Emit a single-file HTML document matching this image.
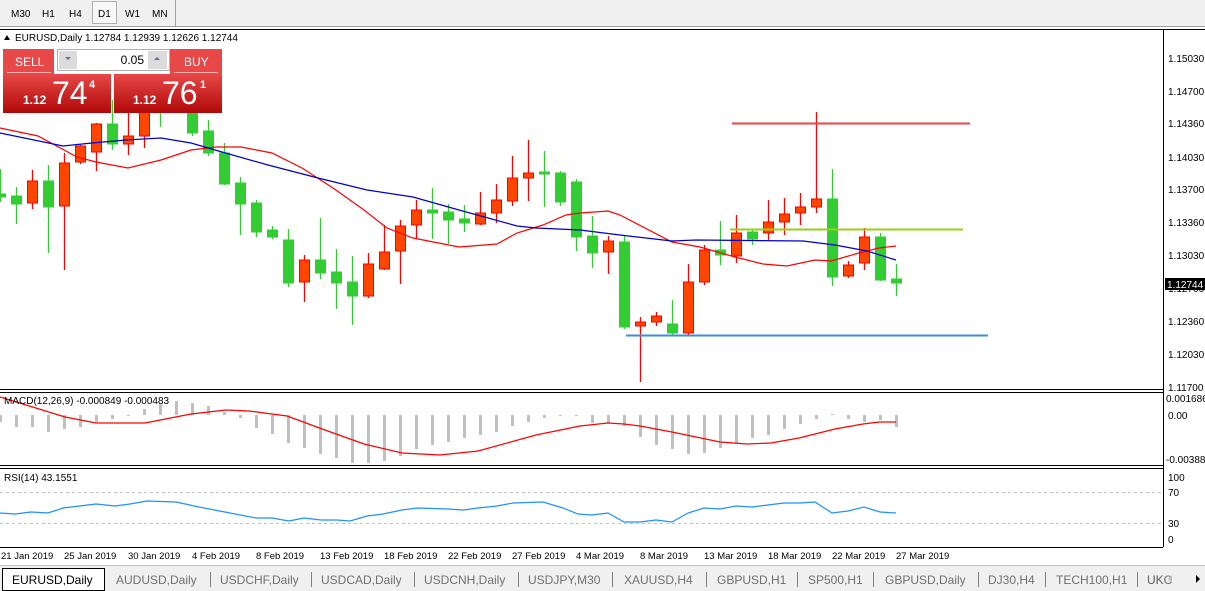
<!DOCTYPE html>
<html><head><meta charset="utf-8"><style>
html,body{margin:0;padding:0;background:#fff;}
svg{display:block;font-family:"Liberation Sans",sans-serif;}
</style></head><body>
<svg id="s" width="1205" height="591" viewBox="0 0 1205 591" xmlns="http://www.w3.org/2000/svg">
<!-- toolbar -->
<rect x="0" y="0" width="1205" height="27" fill="#f0f0f0"/>
<line x1="0" y1="26.5" x2="1205" y2="26.5" stroke="#a0a0a0"/>
<line x1="175.5" y1="0" x2="175.5" y2="26" stroke="#a0a0a0"/>
<rect x="92.5" y="1.5" width="24" height="22" fill="#f8f8f8" stroke="#b0b0b0"/>
<g font-size="10" fill="#000">
<text x="11" y="17">M30</text><text x="42" y="17">H1</text><text x="69" y="17">H4</text>
<text x="98" y="17">D1</text><text x="125" y="17">W1</text><text x="152" y="17">MN</text>
</g>
<line x1="0" y1="29.5" x2="1205" y2="29.5" stroke="#000"/>
<g id="plot"></g>
<!-- horizontal lines -->
<line x1="732" y1="123.5" x2="970" y2="123.5" stroke="#f04040" stroke-width="2"/>
<line x1="730" y1="229.5" x2="963" y2="229.5" stroke="#9acd1a" stroke-width="2"/>
<line x1="626" y1="335.5" x2="988" y2="335.5" stroke="#3a8ee0" stroke-width="2"/>
<!-- header text -->
<polygon points="4,40 10,40 7,35" fill="#000"/>
<text x="15" y="41" font-size="10">EURUSD,Daily  1.12784 1.12939 1.12626 1.12744</text>
<!-- trade panel -->
<defs><linearGradient id="rg" x1="0" y1="0" x2="0" y2="1"><stop offset="0" stop-color="#e84848"/><stop offset="1" stop-color="#b00808"/></linearGradient></defs>
<rect x="3" y="49" width="51" height="25" fill="#e84848"/>
<line x1="7" y1="72.5" x2="51" y2="72.5" stroke="#ffb0b0"/>
<text x="15" y="66" font-size="12" fill="#fff">SELL</text>
<rect x="170" y="49" width="52" height="25" fill="#e84848"/>
<line x1="174" y1="72.5" x2="218" y2="72.5" stroke="#ffb0b0"/>
<text x="184" y="66" font-size="12" fill="#fff">BUY</text>
<rect x="57.5" y="49.5" width="112" height="21" fill="#fff" stroke="#b0b0b0"/>
<rect x="59" y="51" width="18" height="18" fill="#dcdcdc"/>
<rect x="148" y="51" width="19" height="18" fill="#dcdcdc"/>
<polygon points="65,57 71,57 68,60" fill="#6070a0"/><polygon points="154,60 160,60 157,57" fill="#6070a0"/>
<text x="144" y="64" font-size="12" text-anchor="end">0.05</text>
<rect x="3" y="74" width="108" height="39" fill="url(#rg)"/>
<rect x="114" y="74" width="108" height="39" fill="url(#rg)"/>
<text x="23" y="104" font-size="12" font-weight="bold" fill="#fff">1.12</text>
<text x="52" y="104" font-size="32" fill="#fff">74</text>
<text x="89" y="88" font-size="11" font-weight="bold" fill="#fff">4</text>
<text x="133" y="104" font-size="12" font-weight="bold" fill="#fff">1.12</text>
<text x="162" y="104" font-size="32" fill="#fff">76</text>
<text x="200" y="88" font-size="11" font-weight="bold" fill="#fff">1</text>
<!-- frames -->
<line x1="1163.5" y1="29" x2="1163.5" y2="547" stroke="#000"/>
<line x1="0" y1="389.5" x2="1163" y2="389.5" stroke="#000"/>
<line x1="0" y1="392.5" x2="1163" y2="392.5" stroke="#000"/>
<line x1="0" y1="465.5" x2="1163" y2="465.5" stroke="#000"/>
<line x1="0" y1="468.5" x2="1163" y2="468.5" stroke="#000"/>
<line x1="0" y1="547.5" x2="1163" y2="547.5" stroke="#000"/>
<line x1="0" y1="492.5" x2="1163" y2="492.5" stroke="#c0c0c0" stroke-dasharray="3,3"/>
<line x1="0" y1="523.5" x2="1163" y2="523.5" stroke="#c0c0c0" stroke-dasharray="3,3"/>
<!-- y axis labels -->
<g font-size="10" fill="#000">
<text x="1168" y="62">1.15030</text><text x="1168" y="95">1.14700</text><text x="1168" y="127">1.14360</text>
<text x="1168" y="161">1.14030</text><text x="1168" y="193">1.13700</text><text x="1168" y="226">1.13360</text>
<text x="1168" y="259">1.13030</text><text x="1168" y="292">1.12700</text><text x="1168" y="325">1.12360</text>
<text x="1168" y="358">1.12030</text><text x="1168" y="391">1.11700</text>
<rect x="1165" y="278" width="40" height="12" fill="#000"/>
<text x="1167" y="288" fill="#fff">1.12744</text>
<text x="1166" y="402">0.001686</text><text x="1168" y="419">0.00</text><text x="1166" y="463">-0.00388</text>
<text x="1168" y="481">100</text><text x="1168" y="496">70</text><text x="1168" y="527">30</text><text x="1168" y="543">0</text>
<text x="4" y="404">MACD(12,26,9) -0.000849 -0.000483</text>
<text x="4" y="481">RSI(14) 43.1551</text>
</g>
<g font-size="9.5" fill="#000">
<text x="1" y="559">21 Jan 2019</text><text x="64" y="559">25 Jan 2019</text><text x="128" y="559">30 Jan 2019</text>
<text x="192" y="559">4 Feb 2019</text><text x="256" y="559">8 Feb 2019</text><text x="320" y="559">13 Feb 2019</text>
<text x="384" y="559">18 Feb 2019</text><text x="448" y="559">22 Feb 2019</text><text x="512" y="559">27 Feb 2019</text>
<text x="576" y="559">4 Mar 2019</text><text x="640" y="559">8 Mar 2019</text><text x="704" y="559">13 Mar 2019</text>
<text x="768" y="559">18 Mar 2019</text><text x="832" y="559">22 Mar 2019</text><text x="896" y="559">27 Mar 2019</text>
</g>
<!-- tabs -->
<rect x="0" y="565" width="1205" height="26" fill="#f0f0f0"/>
<line x1="0" y1="565.5" x2="1205" y2="565.5" stroke="#c0c0c0"/>
<rect x="2.5" y="568.5" width="102" height="22" fill="#fff" stroke="#000"/>
<g font-size="12" fill="#707070">
<text x="12" y="584" fill="#000">EURUSD,Daily</text>
<text x="116" y="584">AUDUSD,Daily</text><text x="220" y="584">USDCHF,Daily</text><text x="321" y="584">USDCAD,Daily</text>
<text x="424" y="584">USDCNH,Daily</text><text x="528" y="584">USDJPY,M30</text><text x="624" y="584">XAUUSD,H4</text>
<text x="717" y="584">GBPUSD,H1</text><text x="808" y="584">SP500,H1</text><text x="885" y="584">GBPUSD,Daily</text>
<text x="988" y="584">DJ30,H4</text><text x="1056" y="584">TECH100,H1</text><text x="1147" y="584">UKC</text>
</g>
<g stroke="#808080"><line x1="210.5" y1="572" x2="210.5" y2="587"/><line x1="311.5" y1="572" x2="311.5" y2="587"/><line x1="414.5" y1="572" x2="414.5" y2="587"/><line x1="518.5" y1="572" x2="518.5" y2="587"/><line x1="612.5" y1="572" x2="612.5" y2="587"/><line x1="706.5" y1="572" x2="706.5" y2="587"/><line x1="797.5" y1="572" x2="797.5" y2="587"/><line x1="873.5" y1="572" x2="873.5" y2="587"/><line x1="978.5" y1="572" x2="978.5" y2="587"/><line x1="1045.5" y1="572" x2="1045.5" y2="587"/><line x1="1137.5" y1="572" x2="1137.5" y2="587"/></g>
<rect x="1165" y="567" width="40" height="24" fill="#f0f0f0"/>
<text x="1147" y="584" font-size="12" fill="#707070">UKC</text>
<polygon points="1172,575 1172,583 1168,579" fill="#c0c0c0"/><polygon points="1196,575 1196,583 1200,579" fill="#000"/>
</svg>
<script>
var NS="http://www.w3.org/2000/svg",plot=document.getElementById("plot");
function el(n,a){var e=document.createElementNS(NS,n);for(var k in a)e.setAttribute(k,a[k]);plot.appendChild(e);return e;}
var C=[["g",194,197,169,202],["g",196,204,187,224],["r",181,203,170,209],["g",181,207,165,253],["r",163,206,153,270],["r",146,162,145,164],["r",124,152,123,171],["g",124,144,100,150],["r",136,144,100,155],["r",100,136,95,148],["g",90,105,85,127],["r",80,100,75,105],["g",95,133,90,136],["g",131,153,120,156],["g",153,184,143,185],["g",183,204,177,235],["g",203,232,200,237],["g",230,237,226,239],["g",240,283,229,287],["r",260,282,255,302],["g",260,273,218,279],["g",272,283,249,309],["g",282,296,256,325],["r",264,296,253,298],["r",252,269,225,270],["r",226,251,220,284],["r",210,225,200,239],["g",210,213,188,239],["g",212,220,204,244],["g",219,223,205,232],["r",213,224,192,225],["r",200,213,184,223],["r",178,201,156,206],["r",173,178,140,201],["g",172,174,151,207],["g",173,202,171,206],["g",182,237,179,251],["g",236,253,216,268],["r",241,252,236,274],["g",242,327,235,329],["r",322,326,317,382],["r",316,322,312,326],["g",324,333,300,335],["r",282,333,264,335],["r",250,282,245,285],["g",250,255,221,265],["r",233,256,215,263],["g",232,239,230,245],["r",222,233,200,240],["r",214,222,198,235],["r",207,213,193,225],["r",199,207,112,213],["g",199,277,169,286],["r",265,276,261,278],["r",237,263,228,270],["g",237,280,233,281],["g",279,283,264,296]];
// MACD histogram
var H=[422,427,427,432,429,427,422,419,416,409,404,401,403,406,412,418,428,434,443,448,454,458,463,463,461,456,449,445,442,438,435,432,426,422,418,416,416,423,423,426,437,445,449,454,453,448,443,438,435,429,424,419,414,419,422,420,427];
H.forEach(function(y,i){var x=16*i;el("rect",{x:x-1,y:Math.min(y,415),width:3,height:Math.max(1,Math.abs(y-415)),fill:"#c0c0c0"});});
C.forEach(function(c,i){var x=16*i+0.5,col=c[0]=="g"?"#32cd32":"#ff0000";
el("line",{x1:x,y1:c[3],x2:x,y2:c[4],stroke:col,"stroke-width":1.3});
el("rect",{x:x-5,y:c[1],width:10,height:Math.max(1.5,c[2]-c[1]),fill:c[0]=="g"?"#32cd32":"#ff4500",stroke:c[0]=="g"?"#32cd32":"#ff0000","stroke-width":1});});
function pl(p,col){el("polyline",{points:p,fill:"none",stroke:col,"stroke-width":1.2});}
pl("0,128 38,136 77,157 96,162 128,168 161,160 191,150 216,147 241,147 272,153 302,168 333,188 364,210 387,228 413,238 459,247 497,244 517,233 543,225 566,215 580,213 608,211 620,215 672,242 700,247 735,257 763,264 787,266 815,260 831,261 859,253 879,248 896,246","#ff0000");
pl("0,133 63,146 92,143 126,140 161,138 191,143 222,152 268,165 318,178 367,190 413,197 459,210 517,226 536,228 580,230 620,235 672,241 696,240 803,241 835,245 867,251 896,260","#0000c8");
pl("0,397 65,417 96,423 145,423 191,414 226,410 249,411 287,416 325,430 364,444 402,453 440,455 478,451 536,435 580,426 608,423 624,424 640,426 672,432 720,442 747,444 771,443 799,438 835,429 863,424 879,422 896,422","#ff0000");
pl("0,513 15,514 31,512 48,513 63,508 96,504 115,506 130,504 147,501 176,502 199,507 230,513 256,518 272,518 289,521 304,518 321,520 337,520 350,521 367,516 383,514 402,510 417,508 448,509 463,510 478,508 497,506 513,503 543,502 563,508 578,514 592,515 608,513 624,522 640,522 656,520 672,522 688,513 704,508 720,509 736,506 752,507 768,505 784,503 800,503 815,502 832,513 848,511 864,507 880,512 896,513","#1e90ff");
</script>
</body></html>
